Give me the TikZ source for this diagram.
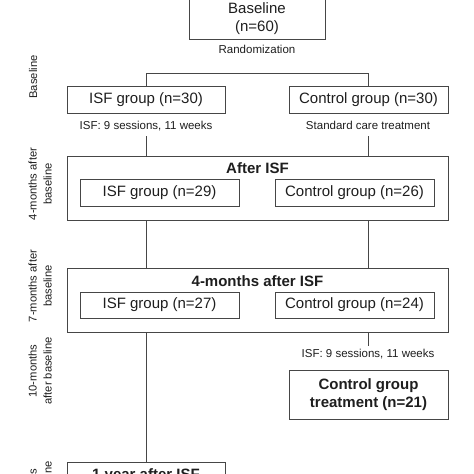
\documentclass[tikz,border=0pt]{standalone}
\usepackage{fontspec}
\setmainfont{Liberation Sans}
\definecolor{txt}{RGB}{30,30,30}
\definecolor{ln}{RGB}{70,70,70}
\begin{document}
\begin{tikzpicture}[x=1pt,y=-1pt,
  box/.style={draw=ln, line width=0.8pt, inner sep=0pt, text=txt, font=\fontsize{15}{18}\selectfont, align=center},
  bigbox/.style={draw=ln, line width=0.8pt, inner sep=0pt, minimum width=381pt, minimum height=64pt},
  ttl/.style={text=txt, font=\fontsize{15}{18}\selectfont\bfseries, inner sep=0pt},
  note/.style={text=txt, font=\fontsize{11.5}{14}\selectfont, inner xsep=2pt, inner ysep=4pt, text height=8pt, text depth=2.5pt},
  side/.style={text=txt, font=\fontsize{11.2}{15}\selectfont, rotate=90, align=center, inner sep=1pt},
  conn/.style={draw=ln, line width=0.8pt}]
\path[use as bounding box] (0,0) rectangle (474,474);
\clip (0,0) rectangle (474,474);

% baseline
\node[box, minimum width=136pt, minimum height=41pt] (base) at (257,19) {Baseline\\(n=60)};
\node[note] (rand) at (257,51) {Randomization};
\node[box, minimum width=158pt, minimum height=27pt] (isf0) at (146,99.5) {ISF group (n=30)};
\node[box, minimum width=159pt, minimum height=27pt] (ctl0) at (368.5,99.5) {Control group (n=30)};
\draw[conn] (isf0.north) -- ++(0,-12.5) -| (ctl0.north);
\node[note] (n1) at (146,127) {ISF: 9 sessions, 11 weeks};
\node[note] (n2) at (368,127) {Standard care treatment};

% after ISF
\node[bigbox] (after) at (257.5,188) {};
\node[ttl] (t1) at (257.5,168) {After ISF};
\node[box, minimum width=159pt, minimum height=27pt] (isf1) at (159.5,192.5) {ISF group (n=29)};
\node[box, minimum width=159pt, minimum height=27pt] (ctl1) at (354.5,192.5) {Control group (n=26)};
\draw[conn] (n1.south) -- (n1.south |- after.north);
\draw[conn] (n2.south) -- (n2.south |- after.north);

% 4 months after ISF
\node[bigbox] (four) at (257.5,300) {};
\node[ttl] (t2) at (257.5,281) {4-months after ISF};
\node[box, minimum width=159pt, minimum height=26pt] (isf2) at (159.5,305) {ISF group (n=27)};
\node[box, minimum width=159pt, minimum height=26pt] (ctl2) at (354.5,305) {Control group (n=24)};
\draw[conn] (n1.south |- after.south) -- (n1.south |- four.north);
\draw[conn] (n2.south |- after.south) -- (n2.south |- four.north);

% control treatment
\node[note] (n3) at (368,355) {ISF: 9 sessions, 11 weeks};
\draw[conn] (n3.north |- four.south) -- (n3.north);
\node[box, font=\fontsize{15}{18}\selectfont\bfseries, minimum width=159pt, minimum height=49pt] (treat) at (368.5,394.5) {Control group\\treatment (n=21)};

% 1 year after ISF
\node[draw=ln, line width=0.8pt, inner sep=0pt, minimum width=158pt, minimum height=50pt] (year) at (146,487) {};
\node[ttl, anchor=base] (t3) at (146,479) {1 year after ISF};
\draw[conn] (n1.south |- four.south) -- (year.north);

% side labels
\node[side] (s0) at (33,77) {Baseline};
\node[side] (s1) at (40,184) {4-months after\\baseline};
\node[side] (s2) at (40,286) {7-months after\\baseline};
\node[side] (s3) at (40,371) {10-months\\after baseline};
\node[side] (s4) at (40,495) {16-months\\after baseline};
\end{tikzpicture}
\end{document}
